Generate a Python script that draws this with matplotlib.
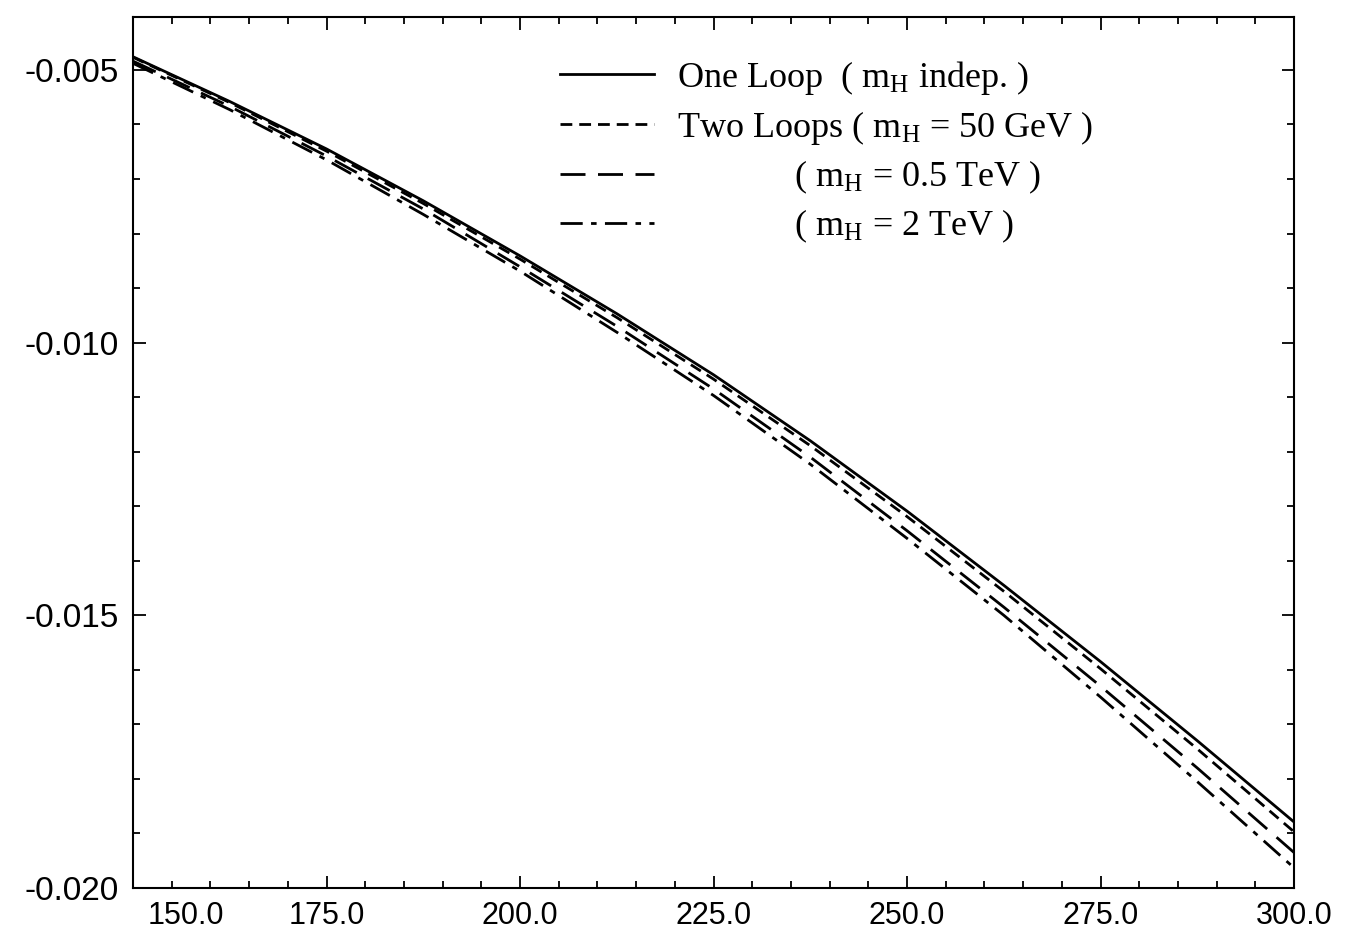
import numpy as np
import matplotlib
matplotlib.use('Agg')
import matplotlib.pyplot as plt
import matplotlib.transforms as mtransforms
from matplotlib.ticker import MultipleLocator, FormatStrFormatter

plt.rcParams['lines.scale_dashes'] = False
plt.rcParams['mathtext.fontset'] = 'custom'
plt.rcParams['mathtext.rm'] = 'Liberation Serif'
plt.rcParams['mathtext.it'] = 'Liberation Serif'

# top mass grid (GeV) and curves
mt = [150.0, 162.5, 175.0, 187.5, 200.0, 212.5, 225.0, 237.5, 250.0, 262.5, 275.0, 287.5, 300.0]
one_loop = [-0.00476, -0.00558, -0.00645, -0.00740, -0.00841, -0.00947, -0.01059,
            -0.01180, -0.01309, -0.01445, -0.01585, -0.01730, -0.01879]
two_loop_50 = [-0.00477, -0.00560, -0.00649, -0.00745, -0.00847, -0.00954, -0.01067,
               -0.01189, -0.01319, -0.01456, -0.01598, -0.01745, -0.01897]
two_loop_500 = [-0.00484, -0.00567, -0.00658, -0.00755, -0.00861, -0.00970, -0.01085,
                -0.01210, -0.01345, -0.01485, -0.01630, -0.01780, -0.01935]
two_loop_2000 = [-0.00488, -0.00573, -0.00665, -0.00765, -0.00869, -0.00981, -0.01097,
                 -0.01223, -0.01359, -0.01500, -0.01650, -0.01805, -0.01963]

x_ticks = [150, 175, 200, 225, 250, 275, 300]
y_ticks = [-0.020, -0.015, -0.010, -0.005]

pad = ' ' * 13
labels = [r'One Loop  ( m$_{\mathrm{H}}$ indep. )',
          r'Two Loops ( m$_{\mathrm{H}}$ = 50 GeV )',
          pad + r'( m$_{\mathrm{H}}$ = 0.5 TeV )',
          pad + r'( m$_{\mathrm{H}}$ = 2 TeV )']

fig = plt.figure(figsize=(13.48, 9.43), dpi=100)
ax = fig.add_axes([0.0987, 0.0583, 0.8613, 0.9237])

lw = 2.0
ax.plot(mt, one_loop, color='black', lw=lw, label=labels[0])
ax.plot(mt, two_loop_50, color='black', lw=lw, linestyle=(0, (8.5, 5)), label=labels[1])
ax.plot(mt, two_loop_500, color='black', lw=lw, linestyle=(0, (18, 9)), label=labels[2])
ax.plot(mt, two_loop_2000, color='black', lw=lw, linestyle=(0, (16, 6, 4, 6)), label=labels[3])

ax.set_xlim(150, 300)
ax.set_ylim(-0.020, -0.00403)

ax.set_xticks(x_ticks)
ax.set_yticks(y_ticks)
ax.xaxis.set_minor_locator(MultipleLocator(5))
ax.yaxis.set_minor_locator(MultipleLocator(0.001))
ax.xaxis.set_major_formatter(FormatStrFormatter('%.1f'))
ax.yaxis.set_major_formatter(FormatStrFormatter('%.3f'))

ax.tick_params(which='both', direction='in', top=True, right=True, width=1.3)
ax.tick_params(which='major', length=9)
ax.tick_params(axis='x', which='major', pad=9, labelsize=22)
ax.tick_params(axis='y', which='major', pad=10, labelsize=24)
ax.tick_params(which='minor', length=5)
for s in ax.spines.values():
    s.set_linewidth(1.5)

fig.canvas.draw()
for t in ax.xaxis.get_major_ticks() + ax.yaxis.get_major_ticks():
    t.label1.set_family('Liberation Sans')
# first x label sits to the right of its tick, clear of -0.020
for t in ax.xaxis.get_major_ticks():
    if abs(t.get_loc() - 150) < 1e-9:
        t.label1.set_ha('left')
        t.label1.set_transform(t.label1.get_transform() +
                               mtransforms.ScaledTranslation(0.15, 0, fig.dpi_scale_trans))

leg = ax.legend(loc='upper left', bbox_to_anchor=(0.34, 0.989), frameon=False,
                prop={'family': 'Liberation Serif', 'size': 26},
                handlelength=2.6, handletextpad=0.63, labelspacing=0.33)

fig.savefig('out.png', dpi=100)
